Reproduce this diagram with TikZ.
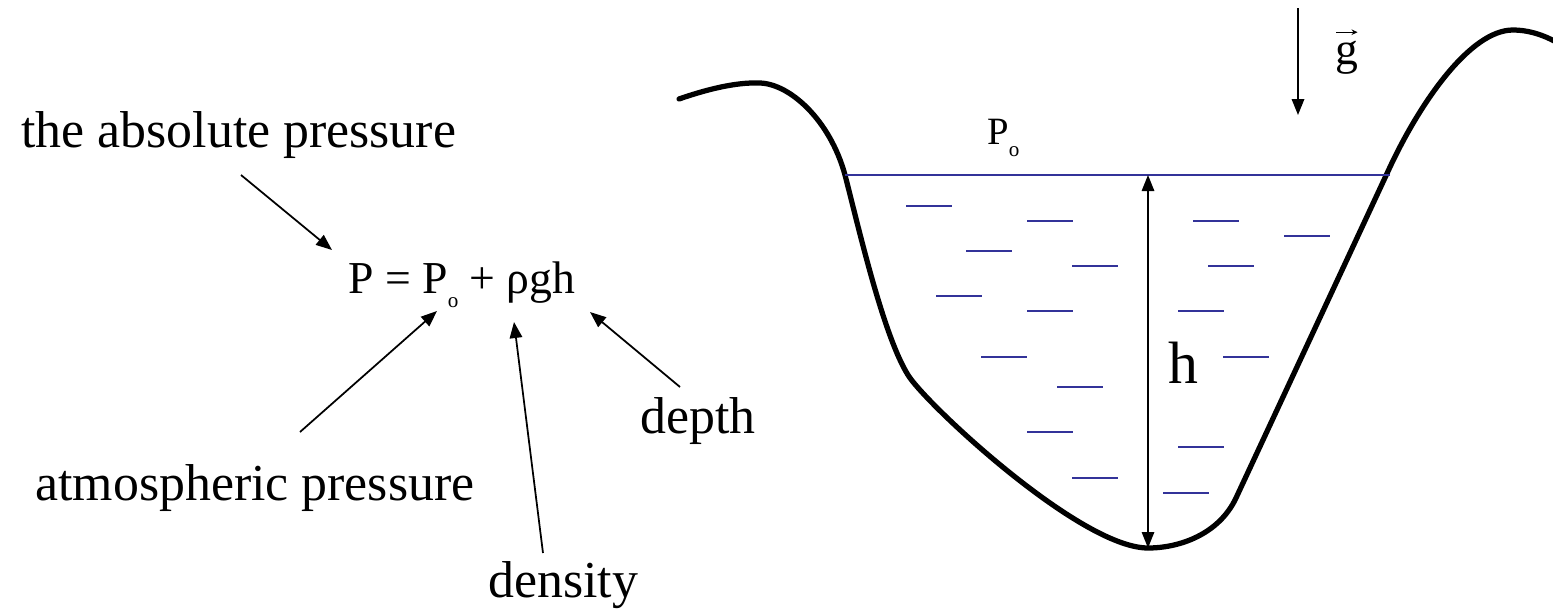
\documentclass[tikz,border=0pt]{standalone}
\usepackage{fontspec}
\setmainfont{Liberation Serif}
\usetikzlibrary{arrows.meta}
\definecolor{water}{RGB}{51,51,153}
\newcommand{\subo}[1]{\raisebox{-#1}{\fontsize{12}{12}\selectfont o}}
\tikzset{
  lbl/.style     = {anchor=base west, inner sep=0pt, font=\fontsize{29.5}{34}\selectfont},
  eqn/.style     = {anchor=base west, inner sep=0pt, font=\fontsize{26}{30}\selectfont},
  small/.style   = {anchor=base west, inner sep=0pt, font=\fontsize{22}{26}\selectfont},
  ptr/.style     = {-{Triangle[length=3.2mm,width=2.5mm]}, line width=0.35mm},
  ptrboth/.style = {{Triangle[length=3.2mm,width=2.5mm]}-{Triangle[length=3.2mm,width=2.5mm]},
                    line width=0.3mm},
  vecar/.style   = {-{Stealth[length=1.2mm,width=1.1mm]}, line width=0.2mm},
  ground/.style  = {line width=1.05mm, line join=round, line cap=round},
  surface/.style = {water, line width=0.35mm},
  ripple/.style  = {water, line width=0.45mm}
}
\begin{document}
\begin{tikzpicture}[x=0.2mm,y=-0.2mm]
  \useasboundingbox (0,0) rectangle (1553,611);
  % labels and the formula
  \node[lbl] (abs) at (21,147) {the absolute pressure};
  \node[eqn] (eq) at (348,293) {P = P\subo{8pt} + ρgh};
  \node[lbl] (atm) at (35,500) {atmospheric pressure};
  \node[lbl] (dep) at (640,433) {depth};
  \node[lbl] (den) at (488,597) {density};
  \coordinate (absT) at (241,175);  \coordinate (absH) at (332,250);
  \coordinate (atmT) at (300,432);  \coordinate (atmH) at (437,311);
  \coordinate (denT) at (543,553);  \coordinate (denH) at (514,322);
  \coordinate (depT) at (680,387);  \coordinate (depH) at (590,312);
  \draw[ptr] (absT) -- (absH);
  \draw[ptr] (atmT) -- (atmH);
  \draw[ptr] (denT) -- (denH);
  \draw[ptr] (depT) -- (depH);
  % the basin
  \begin{scope}
    \clip (0,0) rectangle (1553,611);
    \draw[ground] (679,99) .. controls (705,90) and (735,82) .. (760,83)
      .. controls (790,84) and (830,120) .. (845,175)
      .. controls (858,225) and (883,335) .. (908,375)
      .. controls (925,403) and (1080,548) .. (1148,548)
      .. controls (1180,548) and (1219,534) .. (1236,498)
      -- (1390,167)
      .. controls (1420,103) and (1470,30) .. (1513,30)
      .. controls (1540,30) and (1565,45) .. (1580,60);
  \end{scope}
  \coordinate (surfL) at (845,175);  \coordinate (surfR) at (1390,175);
  \draw[surface] (surfL) -- (surfR);
  \foreach \x/\y in {906/206, 1027/221, 966/251, 1072/266, 936/296,
                     1027/311, 981/357, 1057/387, 1027/432, 1072/478,
                     1193/221, 1284/236, 1208/266, 1178/311, 1223/357,
                     1178/447, 1163/493}
    \draw[ripple] (\x,\y) -- ++(46,0);
  % depth arrow
  \coordinate (hTop) at (1148,175);  \coordinate (hBot) at (1148,548);
  \draw[ptrboth] (hTop) -- (hBot);
  \node[anchor=base west, inner sep=0pt, font=\fontsize{34}{40}\selectfont] (hl) at (1168,383) {h};
  % surface pressure and gravity
  \node[small] (po) at (987,144) {P\subo{7pt}};
  \coordinate (gTop) at (1298,8);  \coordinate (gBot) at (1298,115);
  \draw[ptr] (gTop) -- (gBot);
  \node[anchor=base west, inner sep=0pt, font=\fontsize{26}{30}\selectfont] (gl) at (1335,64) {g};
  \draw[vecar] ([shift={(1,-8)}]gl.north west) -- ([shift={(-1,-8)}]gl.north east);
\end{tikzpicture}
\end{document}
